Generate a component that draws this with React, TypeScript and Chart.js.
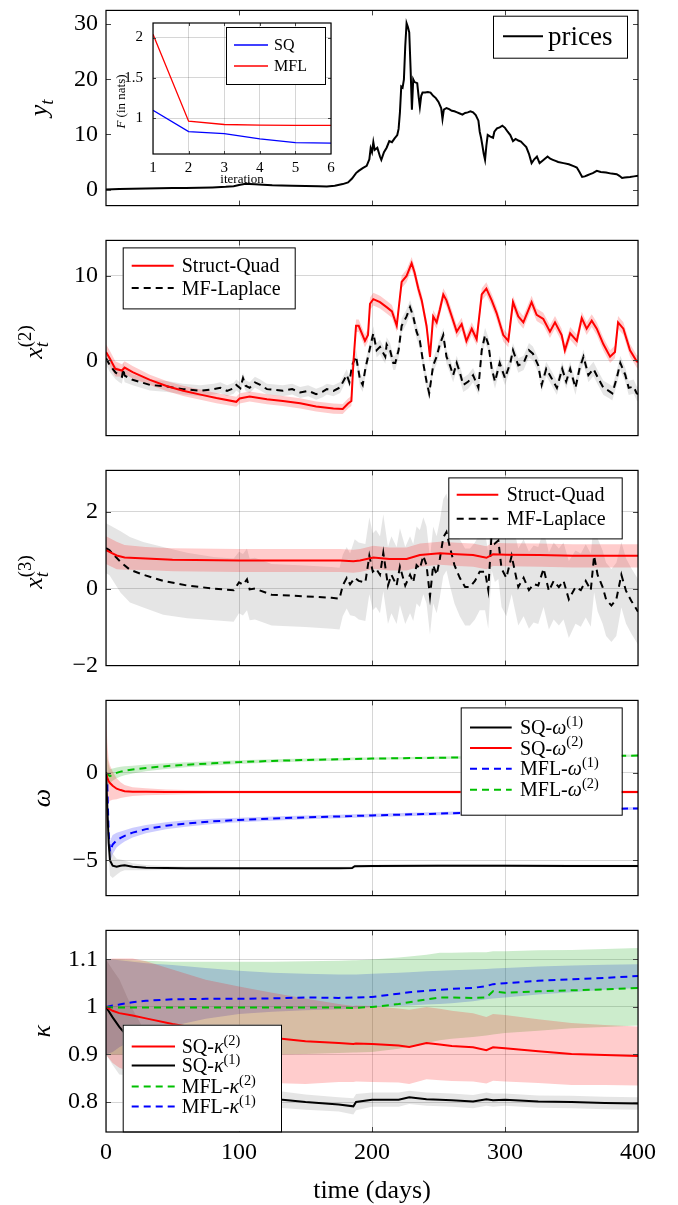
import React, { useEffect, useRef } from "react";
import { Chart, registerables } from "chart.js";
Chart.register(...registerables);

const SERIF = "'Liberation Serif', 'DejaVu Serif', 'Times New Roman', serif";
const GRID = "rgba(0,0,0,0.16)";
const RED = "#ff0000";
const BLACK = "#000000";
const BLUE = "#0000ff";
const GREEN = "#00c000";
const RED_BAND = "rgba(255,0,0,0.2)";
const GRAY_BAND = "rgba(0,0,0,0.1)";
const BLUE_BAND = "rgba(0,0,255,0.2)";
const GREEN_BAND = "rgba(0,160,0,0.2)";
const DASH = [7, 5];

// ---------------- data ----------------
// panel 1: prices [day, value]
const prices: [number, number][] = [
  [0, 0.0], [10, 0.1], [20, 0.15], [30, 0.2], [40, 0.25], [50, 0.3], [60, 0.3], [70, 0.35], [80, 0.4], [90, 0.5],
  [96, 0.6], [100, 0.85], [104, 1.0], [108, 1.0], [112, 0.95], [118, 0.9], [125, 0.8], [132, 0.75], [140, 0.7],
  [150, 0.65], [160, 0.6], [166, 0.55], [172, 0.7], [178, 1.0], [182, 1.3], [185, 2.0], [188, 3.0], [190, 3.4],
  [193, 3.9], [196, 4.3], [198, 5.5], [199, 7.5], [200, 6.8], [201, 8.6], [202, 7.2], [204, 7.6], [206, 6.0],
  [207, 5.4], [209, 6.8], [211, 7.6], [213, 8.8], [215, 8.6], [217, 9.3], [219, 9.9], [220, 11], [221, 14],
  [222, 18.7], [223, 18.5], [224, 20], [225, 26], [226, 30.2], [227, 29.5], [228, 28.5], [229, 22], [230, 14.5],
  [231, 20], [232, 19.5], [234, 19.3], [235, 17], [236, 15], [237, 17], [238, 17.6], [240, 17.6], [242, 17.7],
  [244, 17.6], [246, 17.0], [248, 16.6], [250, 15.9], [252, 14.8], [253, 12.8], [254, 14.5], [256, 14.8],
  [258, 14.6], [260, 14.3], [262, 14.2], [264, 14.0], [266, 13.8], [268, 13.6], [270, 13.9], [272, 14.0],
  [274, 14.2], [276, 14.0], [278, 13.5], [280, 12.5], [281, 10.5], [282, 9.4], [283, 8], [284, 6.5], [285, 5.4],
  [286, 8], [287, 9.9], [289, 9.6], [291, 9.4], [292, 10.5], [294, 11.1], [296, 11.3], [298, 11.6], [300, 11.2],
  [302, 10.5], [304, 9.9], [306, 8.8], [308, 9.2], [310, 8.9], [312, 8.7], [314, 8.2], [316, 7.7], [318, 6.5],
  [320, 4.8], [322, 5.5], [324, 6.0], [326, 4.8], [328, 5.2], [330, 5.6], [332, 6.0], [334, 5.6], [336, 5.4],
  [338, 5.2], [340, 5.0], [344, 4.8], [348, 4.6], [352, 4.2], [354, 4.0], [356, 3.2], [358, 2.3], [360, 2.4],
  [362, 2.6], [364, 2.8], [366, 3.0], [369, 3.4], [372, 3.2], [376, 3.1], [380, 2.9], [384, 2.8], [386, 2.5],
  [388, 2.1], [390, 2.2], [394, 2.3], [397, 2.4], [400, 2.5],
];

// inset: free energy per iteration
const iterations = [1, 2, 3, 4, 5, 6];
const freeSQ = [1.1, 0.837, 0.813, 0.746, 0.7, 0.694];
const freeMFL = [2.04, 0.965, 0.925, 0.917, 0.913, 0.913];

// panel 2: x^(2)
const x2SQ: [number, number][] = [
  [0, 1.0], [3, 0.2], [7, -1.0], [12, -1.2], [14, -0.85], [20, -1.4], [33, -2.3], [46, -3.06], [58, -3.6],
  [71, -4.05], [83, -4.46], [98, -4.9], [100.5, -4.5], [108, -4.27], [121, -4.6], [133, -4.8], [146, -5.08],
  [158, -5.45], [171, -5.7], [178, -5.75], [182, -5.1], [184.5, -4.8], [186, -0.3], [188, 4.1], [190, 4.1],
  [194.7, 2.3], [197, 3.0], [198.5, 6.7], [201, 7.25], [206, 6.9], [211, 6.3], [215, 5.8], [218.6, 4.1],
  [222.3, 9.3], [226, 10.0], [229.8, 11.5], [232, 10.4], [234.8, 8.5], [237.4, 7.1], [241, 4.1], [243.6, 0.4],
  [246, 5.2], [248.6, 4.5], [251, 6.0], [253.6, 7.8], [256, 7.1], [260, 5.2], [263.7, 3.4], [267.4, 4.3],
  [271, 2.3], [275, 3.75], [278.7, 2.5], [282.5, 7.8], [286, 8.5], [290, 7.1], [293.7, 5.6], [298.7, 3.0],
  [302.5, 2.3], [306, 6.9], [310, 5.2], [313.8, 4.5], [320, 6.9], [323.8, 5.4], [328.8, 4.9], [333.8, 3.4],
  [337.6, 4.5], [342.6, 3.0], [345, 1.2], [349, 3.2], [354, 2.3], [357.7, 5.0], [361.4, 3.75], [365.2, 4.7],
  [369, 3.75], [374, 1.9], [379, 0.44], [382.7, 1.0], [385, 4.5], [389, 3.75], [394, 1.2], [399, -0.1], [400, -0.2],
];
const x2MF: [number, number][] = [
  [0, 0.25], [3, -0.6], [7, -1.4], [10, -1.8], [12, -1.95], [13, -1.0], [14, -1.8], [20, -2.3], [33, -2.9],
  [46, -3.1], [58, -3.4], [71, -3.6], [81, -3.4], [86, -3.25], [91, -3.6], [96, -3.3], [98, -2.9], [101, -3.3],
  [103, -2.1], [105, -3.0], [108, -3.25], [112, -2.6], [116, -2.9], [121, -3.4], [127, -3.5], [133, -3.6],
  [140, -3.4], [146, -3.8], [152, -3.6], [158, -4.0], [163, -3.7], [166, -3.4], [171, -3.6], [176, -3.2],
  [181, -1.7], [183, -2.6], [185, -0.6], [188, 0.5], [191, -2.3], [193, -2.9], [195, -1.0], [198.5, 1.5],
  [201, 3.2], [203.5, 1.2], [206, 1.6], [208, 1.0], [210, 0.44], [211, 1.9], [213.6, 1.2], [216, -0.3],
  [217.5, -0.3], [220, 1.2], [222.3, 4.1], [226, 5.2], [228.6, 6.3], [231, 5.2], [233.5, 3.4], [236, 2.3],
  [238.5, -0.3], [241, -2.5], [243, -3.9], [246, -0.6], [248.6, 0.44], [251, 1.9], [253.6, 3.0], [256, 0.44],
  [258.6, -0.6], [261, -1.75], [263.7, -0.3], [266, -1.4], [268.6, -2.9], [272.4, -2.5], [276, -1.75],
  [280, -3.25], [282.5, 1.2], [285, 3.0], [287.5, 1.9], [290, -1.0], [292.5, -2.5], [296, -0.3], [300, -2.1],
  [304, -0.3], [306, 1.2], [310, -0.6], [314, -0.3], [318, 1.2], [321, 0.8], [325, -0.6], [327.6, -2.9],
  [331, -1.0], [335, -2.1], [339, -3.25], [343, -1.0], [346, -2.5], [349, -1.0], [353, -3.25], [356, -1.0],
  [359, 0.44], [362.7, -1.75], [366.5, -1.0], [370, -2.1], [374, -3.25], [378, -3.6], [380.7, -3.9],
  [384, -2.1], [386.7, -0.3], [390.5, -1.75], [393, -3.25], [396.7, -3.1], [399, -3.9], [400, -4.0],
];
// band half-widths [from day, half-width]
const x2SQBand: [number, number][] = [[0, 0.9], [8, 0.75], [25, 0.6], [186, 0.75]];
const x2MFBand: [number, number][] = [[0, 0.8], [15, 0.65], [186, 0.85]];

// panel 3: x^(3)
const x3SQ: [number, number][] = [
  [0, 1.0], [3, 0.95], [8, 0.86], [14, 0.81], [30, 0.78], [50, 0.75], [100, 0.73], [140, 0.73], [176, 0.73],
  [186, 0.71], [191, 0.73], [201, 0.81], [213, 0.77], [226, 0.77], [236, 0.87], [251, 0.92], [264, 0.89],
  [276, 0.87], [286, 0.8], [291, 0.89], [301, 0.88], [326, 0.87], [351, 0.85], [376, 0.85], [400, 0.85],
];
const x3MF: [number, number][] = [
  [0, 1.05], [2.5, 1.0], [11, 0.69], [18, 0.49], [28, 0.36], [43, 0.2], [61, 0.08], [81, 0.0], [96, -0.04],
  [100, 0.16], [103, 0.1], [106, 0.24], [108, -0.02], [112, 0.0], [124.5, -0.16], [149.6, -0.2], [169.6, -0.24],
  [175.6, -0.26], [178, 0.08], [181, 0.28], [183.5, 0.11], [187, 0.28], [190, 0.2], [195, 0.16], [198, 0.85],
  [200.6, 0.44], [203, 0.52], [206, 0.36], [208.5, 0.93], [212, 0.08], [214.6, 0.36], [218.5, 0.08], [221, 0.57],
  [225, 0.08], [228.6, 0.36], [231, 0.16], [233.5, 0.61], [236, 0.52], [238.6, 0.85], [241, 0.61], [243.6, -0.2],
  [246, 0.61], [248.6, 0.36], [251, 0.77], [253.6, 1.33], [256, 1.47], [258.6, 1.07], [262, 0.61], [266, 0.28],
  [270, 0.04], [273.6, 0.04], [277.4, 0.2], [281, 0.44], [285, 0.44], [287.4, -0.04], [290, 1.47], [292.4, 1.17],
  [295, 1.25], [297.4, 0.52], [301, 0.28], [305, 0.85], [307.5, 0.44], [310, 0.04], [314, 0.28], [318, -0.04],
  [321.5, 0.12], [325, 0.08], [329, 0.52], [333, -0.06], [336.6, 0.2], [340.5, 0.04], [344, 0.2], [348, -0.28],
  [353, 0.04], [357, -0.04], [360.7, 0.2], [364.5, -0.04], [367, 0.85], [369.6, 0.36], [373.4, 0.04],
  [376, -0.28], [380, -0.44], [383.7, -0.28], [387.5, 0.36], [391, -0.06], [395, -0.32], [400, -0.6],
];
const x3SQBand: [number, number][] = [[0, 0.36], [10, 0.32], [20, 0.3]];
const x3MFBand: [number, number][] = [
  [0, 0.65], [4, 0.75], [8, 0.8], [15, 0.85], [40, 0.88], [60, 0.85], [80, 0.82], [100, 0.8], [186, 1.0],
  [350, 0.95], [385, 0.85],
];

// panel 4: omega (shared day grid)
const omegaDays = [0, 1, 2, 3, 5, 8, 11, 14, 20, 30, 45, 60, 80, 100, 125, 150, 175, 185, 187, 200, 250, 300, 350, 400];
const w1SQ = [0, -2.0, -4.0, -5.0, -5.3, -5.36, -5.3, -5.28, -5.36, -5.41, -5.43, -5.44, -5.44, -5.45, -5.45, -5.45, -5.44, -5.43, -5.33, -5.32, -5.3, -5.3, -5.31, -5.32];
const w1SQhw = [1.0, 1.0, 0.9, 0.85, 0.7, 0.45, 0.35, 0.28, 0.2, 0.15, 0.12, 0.1, 0.09, 0.08, 0.08, 0.08, 0.08, 0.08, 0.08, 0.08, 0.08, 0.08, 0.08, 0.08];
const w2SQ = [0, -0.3, -0.5, -0.6, -0.75, -0.92, -1.0, -1.06, -1.09, -1.1, -1.11, -1.11, -1.11, -1.11, -1.11, -1.11, -1.11, -1.11, -1.11, -1.11, -1.11, -1.11, -1.11, -1.11];
const w2SQhw = [3.5, 2.0, 1.2, 1.0, 0.8, 0.6, 0.45, 0.35, 0.25, 0.2, 0.15, 0.12, 0.1, 0.09, 0.08, 0.08, 0.08, 0.08, 0.08, 0.08, 0.08, 0.08, 0.08, 0.08];
const w1MFL = [0, -0.74, -3.4, -4.5, -4.1, -3.85, -3.72, -3.6, -3.42, -3.22, -3.03, -2.9, -2.78, -2.7, -2.62, -2.55, -2.5, -2.48, -2.47, -2.44, -2.34, -2.22, -2.12, -2.04];
const w1MFLhw = [0.3, 0.5, 0.6, 0.6, 0.55, 0.42, 0.36, 0.32, 0.28, 0.24, 0.2, 0.18, 0.15, 0.13, 0.12, 0.11, 0.1, 0.1, 0.1, 0.1, 0.09, 0.09, 0.08, 0.08];
const w2MFL = [0, -0.1, -0.15, -0.2, -0.12, -0.02, 0.05, 0.1, 0.17, 0.26, 0.36, 0.44, 0.52, 0.59, 0.66, 0.71, 0.75, 0.77, 0.77, 0.79, 0.84, 0.88, 0.92, 0.96];
const w2MFLhw = [2.5, 1.0, 0.6, 0.4, 0.35, 0.3, 0.28, 0.25, 0.22, 0.19, 0.16, 0.14, 0.12, 0.1, 0.09, 0.08, 0.08, 0.08, 0.08, 0.07, 0.07, 0.07, 0.07, 0.07];

// panel 5: kappa (shared day grid)
const kappaDays = [0, 5, 10, 20, 30, 50, 75, 100, 125, 150, 175, 186, 188, 200, 220, 228, 241, 251, 260, 276, 286, 291, 300, 325, 350, 375, 400];
const k2SQ = [1.0, 0.992, 0.987, 0.982, 0.976, 0.964, 0.952, 0.943, 0.935, 0.928, 0.924, 0.922, 0.923, 0.922, 0.919, 0.916, 0.924, 0.921, 0.918, 0.915, 0.909, 0.915, 0.913, 0.907, 0.901, 0.899, 0.897];
const k2SQhw = [0.1, 0.11, 0.115, 0.12, 0.12, 0.115, 0.105, 0.1, 0.095, 0.09, 0.082, 0.08, 0.08, 0.08, 0.078, 0.078, 0.076, 0.075, 0.074, 0.072, 0.07, 0.07, 0.07, 0.067, 0.065, 0.063, 0.062];
const k1SQ = [1.0, 0.978, 0.958, 0.925, 0.895, 0.86, 0.83, 0.815, 0.807, 0.8, 0.795, 0.791, 0.8, 0.805, 0.805, 0.81, 0.806, 0.805, 0.804, 0.801, 0.806, 0.804, 0.805, 0.801, 0.8, 0.798, 0.797];
const k1SQhw = [0.1, 0.1, 0.1, 0.07, 0.05, 0.035, 0.025, 0.02, 0.018, 0.016, 0.015, 0.017, 0.017, 0.015, 0.015, 0.014, 0.014, 0.014, 0.014, 0.014, 0.014, 0.014, 0.013, 0.013, 0.013, 0.013, 0.013];
const k1MFL = [1.0, 1.003, 1.005, 1.01, 1.013, 1.016, 1.017, 1.017, 1.018, 1.02, 1.019, 1.02, 1.02, 1.021, 1.028, 1.031, 1.034, 1.036, 1.038, 1.04, 1.044, 1.048, 1.05, 1.055, 1.058, 1.061, 1.065];
const k1MFLup = [1.1, 1.1, 1.098, 1.095, 1.092, 1.088, 1.082, 1.076, 1.072, 1.07, 1.068, 1.068, 1.068, 1.07, 1.072, 1.073, 1.075, 1.076, 1.077, 1.079, 1.08, 1.081, 1.082, 1.085, 1.087, 1.089, 1.09];
const k1MFLlo = [0.9, 0.905, 0.915, 0.93, 0.945, 0.96, 0.975, 0.985, 0.99, 0.993, 0.995, 0.996, 0.996, 1.0, 1.002, 1.003, 1.005, 1.006, 1.008, 1.012, 1.016, 1.018, 1.02, 1.026, 1.031, 1.036, 1.04];
const k2MFL = [1.0, 0.999, 0.999, 0.999, 0.999, 0.999, 0.999, 0.999, 0.999, 0.999, 0.999, 0.998, 0.998, 1.0, 1.006, 1.01, 1.016, 1.02, 1.02, 1.019, 1.02, 1.033, 1.03, 1.033, 1.035, 1.037, 1.04];
const k2MFLup = [1.1, 1.1, 1.1, 1.098, 1.097, 1.095, 1.095, 1.095, 1.095, 1.096, 1.097, 1.098, 1.098, 1.1, 1.104, 1.106, 1.11, 1.114, 1.114, 1.115, 1.115, 1.117, 1.117, 1.119, 1.12, 1.122, 1.124];
const k2MFLlo = [0.9, 0.9, 0.9, 0.9, 0.9, 0.9, 0.9, 0.9, 0.9, 0.901, 0.903, 0.904, 0.904, 0.905, 0.912, 0.916, 0.924, 0.93, 0.933, 0.937, 0.94, 0.942, 0.945, 0.95, 0.955, 0.958, 0.961];

// ---------------- helpers ----------------
type Pt = { x: number; y: number };
const fromPairs = (p: [number, number][]): Pt[] => p.map(([x, y]) => ({ x, y }));
const fromGrid = (days: number[], v: number[]): Pt[] => days.map((x, i) => ({ x, y: v[i] }));
function stepHW(steps: [number, number][], d: number) {
  let v = steps[0][1];
  for (const [from, hw] of steps) if (d >= from) v = hw;
  return v;
}
function bandFromPairs(p: [number, number][], steps: [number, number][]) {
  return {
    up: p.map(([x, y]) => ({ x, y: y + stepHW(steps, x) })),
    lo: p.map(([x, y]) => ({ x, y: y - stepHW(steps, x) })),
  };
}
function bandFromGrid(days: number[], v: number[], hw: number[]) {
  return {
    up: days.map((x, i) => ({ x, y: v[i] + hw[i] })),
    lo: days.map((x, i) => ({ x, y: v[i] - hw[i] })),
  };
}
const fmtNum = (v: number) => String(Math.round(v * 100) / 100).replace("-", "\u2212");

type Seg = { t: string; it?: boolean; pos?: "sup" | "sub"; keep?: boolean };
function layoutRich(ctx: CanvasRenderingContext2D, segs: Seg[], size: number) {
  const items: { t: string; x: number; dy: number; font: string }[] = [];
  let x = 0;
  let pend = 0;
  for (const s of segs) {
    const sz = s.pos ? size * 0.72 : size;
    const font = `${s.it ? "italic " : ""}${sz}px ${SERIF}`;
    ctx.font = font;
    const w = ctx.measureText(s.t).width;
    const dy = s.pos === "sup" ? -size * 0.42 : s.pos === "sub" ? size * 0.24 : 0;
    items.push({ t: s.t, x, dy, font });
    if (s.keep) pend = Math.max(pend, w);
    else {
      x += Math.max(w, pend);
      pend = 0;
    }
  }
  return { items, width: x };
}
function drawRich(ctx: CanvasRenderingContext2D, segs: Seg[], x0: number, y0: number, size: number) {
  const L = layoutRich(ctx, segs, size);
  ctx.fillStyle = "#000";
  ctx.textAlign = "left";
  ctx.textBaseline = "alphabetic";
  for (const it of L.items) {
    ctx.font = it.font;
    ctx.fillText(it.t, x0 + it.x, y0 + it.dy);
  }
  return L.width;
}

type LegendEntry = { segs: Seg[]; color: string; dash?: number[]; y: number; lw?: number };
type LegendSpec = {
  anchor: "left" | "right"; dx: number; top: number; w: number; h: number; size: number;
  s1: number; s2: number; tx: number; entries: LegendEntry[];
};
type DecorSpec = {
  tickLen: number; legend?: LegendSpec;
  yTitle?: { segs: Seg[]; x: number; size: number; dy?: number };
  xTitle?: { segs: Seg[]; dyBase: number; size: number };
};

function makeDecor(spec: DecorSpec) {
  return {
    id: "decor",
    afterDraw(chart: any) {
      const ctx: CanvasRenderingContext2D = chart.ctx;
      const ca = chart.chartArea;
      const xs = chart.scales.x;
      const ys = chart.scales.y;
      ctx.save();
      // inward ticks
      ctx.strokeStyle = "#444";
      ctx.lineWidth = 1;
      ctx.setLineDash([]);
      ctx.beginPath();
      for (const t of xs.ticks) {
        const px = Math.round(xs.getPixelForValue(t.value)) + 0.5;
        if (px <= ca.left + 2 || px >= ca.right - 2) continue;
        ctx.moveTo(px, ca.top);
        ctx.lineTo(px, ca.top + spec.tickLen);
        ctx.moveTo(px, ca.bottom);
        ctx.lineTo(px, ca.bottom - spec.tickLen);
      }
      for (const t of ys.ticks) {
        const py = Math.round(ys.getPixelForValue(t.value)) + 0.5;
        if (py <= ca.top + 2 || py >= ca.bottom - 2) continue;
        ctx.moveTo(ca.left, py);
        ctx.lineTo(ca.left + spec.tickLen, py);
        ctx.moveTo(ca.right, py);
        ctx.lineTo(ca.right - spec.tickLen, py);
      }
      ctx.stroke();
      // frame
      ctx.strokeStyle = "#000";
      ctx.lineWidth = 1.2;
      ctx.strokeRect(ca.left, ca.top, ca.right - ca.left, ca.bottom - ca.top);
      // legend
      const lg = spec.legend;
      if (lg) {
        const bx = lg.anchor === "left" ? ca.left + lg.dx : ca.right - lg.dx - lg.w;
        const by = ca.top + lg.top;
        ctx.fillStyle = "#fff";
        ctx.fillRect(bx, by, lg.w, lg.h);
        ctx.strokeStyle = "#000";
        ctx.lineWidth = 1;
        ctx.strokeRect(bx + 0.5, by + 0.5, lg.w, lg.h);
        for (const e of lg.entries) {
          const ey = by + e.y;
          ctx.strokeStyle = e.color;
          ctx.lineWidth = e.lw ?? 2;
          ctx.setLineDash(e.dash ?? []);
          ctx.beginPath();
          ctx.moveTo(bx + lg.s1, ey);
          ctx.lineTo(bx + lg.s2, ey);
          ctx.stroke();
          ctx.setLineDash([]);
          drawRich(ctx, e.segs, bx + lg.tx, ey + lg.size * 0.33, lg.size);
        }
      }
      // y title (rotated)
      if (spec.yTitle) {
        const yt = spec.yTitle;
        ctx.save();
        ctx.translate(yt.x, (ca.top + ca.bottom) / 2 + (yt.dy ?? 0));
        ctx.rotate(-Math.PI / 2);
        const w = layoutRich(ctx, yt.segs, yt.size).width;
        drawRich(ctx, yt.segs, -w / 2, 0, yt.size);
        ctx.restore();
      }
      if (spec.xTitle) {
        const xt = spec.xTitle;
        const w = layoutRich(ctx, xt.segs, xt.size).width;
        drawRich(ctx, xt.segs, (ca.left + ca.right) / 2 - w / 2, ca.bottom + xt.dyBase, xt.size);
      }
      ctx.restore();
    },
  };
}

type LineSpec = { data: Pt[]; color: string; dash?: number[]; width?: number };
type BandSpec = { up: Pt[]; lo: Pt[]; color: string };
type PanelSpec = {
  left: number; top: number; cw: number; ch: number;
  pad: { left: number; right: number; top: number; bottom: number };
  yw: number; xh: number;
  xMin: number; xMax: number; xStep: number;
  yMin: number; yMax: number; yStep: number;
  grid: boolean; showX: boolean; tickFont: number; yPad: number; xPad: number;
  lines: LineSpec[]; bands: BandSpec[]; decor: DecorSpec;
};

function buildConfig(p: PanelSpec): any {
  const datasets: any[] = [];
  p.lines.forEach((l) => {
    datasets.push({
      data: l.data, borderColor: l.color, borderWidth: l.width ?? 2, borderDash: l.dash ?? [],
      pointRadius: 0, fill: false, tension: 0, order: 0,
    });
  });
  p.bands.forEach((b) => {
    const upIdx = datasets.length;
    datasets.push({
      data: b.up, borderColor: "rgba(0,0,0,0)", borderWidth: 0, pointRadius: 0,
      backgroundColor: b.color, fill: upIdx + 1, tension: 0, order: 1,
    });
    datasets.push({
      data: b.lo, borderColor: "rgba(0,0,0,0)", borderWidth: 0, pointRadius: 0,
      fill: false, tension: 0, order: 1,
    });
  });
  const tickFont = { family: SERIF, size: p.tickFont };
  return {
    type: "line",
    data: { datasets },
    options: {
      animation: false,
      responsive: false,
      events: [],
      layout: { padding: p.pad },
      plugins: { legend: { display: false }, tooltip: { enabled: false } },
      scales: {
        x: {
          type: "linear", min: p.xMin, max: p.xMax,
          border: { display: false },
          grid: { display: p.grid, color: GRID, lineWidth: 1, drawTicks: false },
          ticks: {
            display: p.showX, stepSize: p.xStep, color: "#000", font: tickFont, padding: p.xPad,
            maxRotation: 0, autoSkip: false, includeBounds: false, callback: (v: number) => fmtNum(v),
          },
          afterFit: (s: any) => { s.height = p.xh; },
        },
        y: {
          type: "linear", min: p.yMin, max: p.yMax,
          border: { display: false },
          grid: { display: p.grid, color: GRID, lineWidth: 1, drawTicks: false },
          ticks: {
            stepSize: p.yStep, color: "#000", font: tickFont, padding: p.yPad,
            includeBounds: false, autoSkip: false, callback: (v: number) => fmtNum(v),
          },
          afterFit: (s: any) => { s.width = p.yw; },
        },
      },
    },
    plugins: [makeDecor(p.decor)],
  };
}

// ---------------- panels ----------------
const PT = 16; // top pad
const PH = 208; // plot height
const mainPanel = (plotTop: number, extraBottom = 0) => ({
  left: 0, top: plotTop - PT, cw: 678, ch: PT + PH + 16 + extraBottom,
  pad: { left: 0, right: 40, top: PT, bottom: extraBottom ? 0 : 16 },
  yw: 106, xh: extraBottom ? extraBottom + 16 : 0,
  xMin: 0, xMax: 400, xStep: 100, tickFont: 24, yPad: 8, xPad: 6,
});

const band2SQ = bandFromPairs(x2SQ, x2SQBand);
const band2MF = bandFromPairs(x2MF, x2MFBand);
const band3SQ = bandFromPairs(x3SQ, x3SQBand);
const band3MF = bandFromPairs(x3MF, x3MFBand);

const sqSeg = (name: string, greek: string, k: string): Seg[] => [
  { t: name + "-" }, { t: greek, it: true }, { t: `(${k})`, pos: "sup" },
];

const PANELS: PanelSpec[] = [
  {
    ...mainPanel(4), yMin: -2.9, yMax: 32.5, yStep: 10, grid: false, showX: false,
    lines: [{ data: fromPairs(prices), color: BLACK, width: 2 }],
    bands: [],
    decor: {
      tickLen: 5,
      legend: {
        anchor: "right", dx: 11, top: 5.3, w: 134, h: 42, size: 27, s1: 10, s2: 50, tx: 55,
        entries: [{ segs: [{ t: "prices" }], color: BLACK, y: 20.5 }],
      },
      yTitle: { segs: [{ t: "y", it: true }, { t: "t", it: true, pos: "sub" }], x: 47, size: 26 },
    },
  },
  {
    ...mainPanel(234), yMin: -8.9, yMax: 14.2, yStep: 10, grid: true, showX: false,
    lines: [
      { data: fromPairs(x2SQ), color: RED },
      { data: fromPairs(x2MF), color: BLACK, dash: DASH },
    ],
    bands: [
      { ...band2SQ, color: RED_BAND },
      { ...band2MF, color: GRAY_BAND },
    ],
    decor: {
      tickLen: 5,
      legend: {
        anchor: "left", dx: 16.7, top: 7, w: 172, h: 61, size: 20, s1: 9, s2: 51, tx: 59,
        entries: [
          { segs: [{ t: "Struct-Quad" }], color: RED, y: 18.3 },
          { segs: [{ t: "MF-Laplace" }], color: BLACK, dash: DASH, y: 40.7 },
        ],
      },
      yTitle: {
        segs: [{ t: "x", it: true }, { t: "t", it: true, pos: "sub", keep: true }, { t: "(2)", pos: "sup" }],
        x: 42, size: 26, dy: 4,
      },
    },
  },
  {
    ...mainPanel(464), yMin: -2, yMax: 3.07, yStep: 2, grid: true, showX: false,
    lines: [
      { data: fromPairs(x3SQ), color: RED },
      { data: fromPairs(x3MF), color: BLACK, dash: DASH },
    ],
    bands: [
      { ...band3SQ, color: RED_BAND },
      { ...band3MF, color: GRAY_BAND },
    ],
    decor: {
      tickLen: 5,
      legend: {
        anchor: "right", dx: 16.3, top: 7, w: 173.4, h: 61, size: 20, s1: 8.4, s2: 50, tx: 58.4,
        entries: [
          { segs: [{ t: "Struct-Quad" }], color: RED, y: 17.3 },
          { segs: [{ t: "MF-Laplace" }], color: BLACK, dash: DASH, y: 41.3 },
        ],
      },
      yTitle: {
        segs: [{ t: "x", it: true }, { t: "t", it: true, pos: "sub", keep: true }, { t: "(3)", pos: "sup" }],
        x: 42, size: 26, dy: 4,
      },
    },
  },
  {
    ...mainPanel(694), yMin: -7, yMax: 4.1, yStep: 5, grid: true, showX: false,
    lines: [
      { data: fromGrid(omegaDays, w1SQ), color: BLACK },
      { data: fromGrid(omegaDays, w2SQ), color: RED },
      { data: fromGrid(omegaDays, w1MFL), color: BLUE, dash: DASH },
      { data: fromGrid(omegaDays, w2MFL), color: GREEN, dash: DASH },
    ],
    bands: [
      { ...bandFromGrid(omegaDays, w1SQ, w1SQhw), color: GRAY_BAND },
      { ...bandFromGrid(omegaDays, w2SQ, w2SQhw), color: RED_BAND },
      { ...bandFromGrid(omegaDays, w1MFL, w1MFLhw), color: BLUE_BAND },
      { ...bandFromGrid(omegaDays, w2MFL, w2MFLhw), color: GREEN_BAND },
    ],
    decor: {
      tickLen: 5,
      legend: {
        anchor: "right", dx: 16.3, top: 7, w: 161, h: 107.3, size: 20, s1: 9.3, s2: 51, tx: 59.3,
        entries: [
          { segs: sqSeg("SQ", "\u03c9", "1"), color: BLACK, y: 20 },
          { segs: sqSeg("SQ", "\u03c9", "2"), color: RED, y: 40.7 },
          { segs: sqSeg("MFL", "\u03c9", "1"), color: BLUE, dash: DASH, y: 61.3 },
          { segs: sqSeg("MFL", "\u03c9", "2"), color: GREEN, dash: DASH, y: 82.3 },
        ],
      },
      yTitle: { segs: [{ t: "\u03c9", it: true }], x: 50, size: 26 },
    },
  },
  {
    ...mainPanel(924, 57), yMin: 0.737, yMax: 1.161, yStep: 0.1, grid: true, showX: true,
    lines: [
      { data: fromGrid(kappaDays, k2SQ), color: RED },
      { data: fromGrid(kappaDays, k1SQ), color: BLACK },
      { data: fromGrid(kappaDays, k2MFL), color: GREEN, dash: DASH },
      { data: fromGrid(kappaDays, k1MFL), color: BLUE, dash: DASH },
    ],
    bands: [
      { ...bandFromGrid(kappaDays, k2SQ, k2SQhw), color: RED_BAND },
      { ...bandFromGrid(kappaDays, k1SQ, k1SQhw), color: GRAY_BAND },
      { up: fromGrid(kappaDays, k2MFLup), lo: fromGrid(kappaDays, k2MFLlo), color: GREEN_BAND },
      { up: fromGrid(kappaDays, k1MFLup), lo: fromGrid(kappaDays, k1MFLlo), color: BLUE_BAND },
    ],
    decor: {
      tickLen: 5,
      legend: {
        anchor: "left", dx: 16.7, top: 94.3, w: 158.3, h: 106.7, size: 20, s1: 9, s2: 52.3, tx: 59,
        entries: [
          { segs: sqSeg("SQ", "\u03ba", "2"), color: RED, y: 21.7 },
          { segs: sqSeg("SQ", "\u03ba", "1"), color: BLACK, y: 40.7 },
          { segs: sqSeg("MFL", "\u03ba", "2"), color: GREEN, dash: DASH, y: 61.7 },
          { segs: sqSeg("MFL", "\u03ba", "1"), color: BLUE, dash: DASH, y: 81.7 },
        ],
      },
      yTitle: { segs: [{ t: "\u03ba", it: true }], x: 50, size: 26 },
      xTitle: { segs: [{ t: "time (days)" }], dyBase: 66, size: 26 },
    },
  },
  {
    // inset
    left: 106, top: 4, cw: 240, ch: 186,
    pad: { left: 0, right: 15, top: 14, bottom: 0 },
    yw: 47, xh: 36,
    xMin: 1, xMax: 6, xStep: 1, yMin: 0.56, yMax: 2.18, yStep: 0.5,
    grid: true, showX: true, tickFont: 15, yPad: 10, xPad: 5,
    lines: [
      { data: fromGrid(iterations, freeSQ), color: BLUE, width: 1.3 },
      { data: fromGrid(iterations, freeMFL), color: RED, width: 1.3 },
    ],
    bands: [],
    decor: {
      tickLen: 3,
      legend: {
        anchor: "left", dx: 73, top: 4, w: 99, h: 57, size: 16, s1: 8, s2: 42, tx: 48,
        entries: [
          { segs: [{ t: "SQ" }], color: BLUE, y: 18, lw: 1.3 },
          { segs: [{ t: "MFL" }], color: RED, y: 39, lw: 1.3 },
        ],
      },
      yTitle: { segs: [{ t: "F", it: true }, { t: " (in nats)" }], x: 19, size: 13, dy: 13 },
      xTitle: { segs: [{ t: "iteration" }], dyBase: 29, size: 13 },
    },
  },
];

export default function App() {
  const refs = useRef<(HTMLCanvasElement | null)[]>([]);
  useEffect(() => {
    const charts = PANELS.map((p, i) => new Chart(refs.current[i] as HTMLCanvasElement, buildConfig(p)));
    return () => charts.forEach((c) => c.destroy());
  }, []);
  return (
    <div style={{ position: "absolute", left: 0, top: 0, width: 678, height: 1205, overflow: "hidden", background: "#fff" }}>
      {PANELS.map((p, i) => (
        <canvas
          key={i}
          ref={(el) => { refs.current[i] = el; }}
          width={p.cw}
          height={p.ch}
          style={{ position: "absolute", left: p.left, top: p.top, width: p.cw, height: p.ch }}
        />
      ))}
    </div>
  );
}
